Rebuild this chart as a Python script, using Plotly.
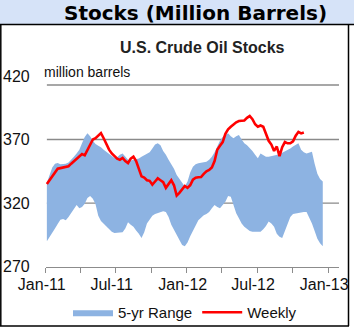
import pandas as pd
import plotly.graph_objects as go

# ---------------- data ----------------
band_start = "2011-01-04"
weekly_start = "2011-01-04"

range_low = [
    290, 293, 296.5, 300, 303.5, 307, 307.5, 306.5, 309, 312, 316, 318.5, 316, 317, 319.5, 324, 325.5,
    323.5, 319, 310, 306, 304, 302, 299.5, 297.5, 296.5, 296.5, 296.5, 297, 300, 305, 303, 301.5, 298.5,
    296, 292.5, 297, 304, 307.5, 310, 311.5, 312, 312.5, 313.5, 313, 309, 303, 299, 295, 292, 287, 286,
    289, 294, 298.5, 303, 306.5, 308.5, 310.5, 311.5, 313, 316, 318.5, 317, 316, 318.5, 321, 325.5, 325,
    318.5, 312, 308, 304, 301.5, 299.5, 298, 297.5, 297.5, 297.5, 297.5, 299.5, 302, 305.5, 304, 301.5,
    296, 293.5, 292.5, 298, 304, 309, 311.5, 312, 312, 312.5, 313, 313, 309, 304, 298, 292, 288.5, 286,
]
range_high = [
    336, 343, 348, 351, 351.5, 350.5, 350.5, 351, 352, 354, 356.5, 359, 362, 367, 372, 375, 372.5, 369,
    366.5, 365, 364, 362, 360.5, 359, 357, 355.5, 356, 358, 359, 356, 354, 353.5, 354, 354, 355, 356.5,
    357.5, 358.5, 360, 363, 366, 367, 365.5, 361, 358, 354, 351, 347, 342, 339, 337, 333,
    337, 344, 348.5, 350.5, 351.3, 351.5, 352, 352.5, 354, 356.5, 360, 365, 369, 372, 373.5, 375, 372.5,
    371, 372.5, 373.5, 370, 367, 365.5, 363.5, 361, 358, 355.2, 359, 357.5, 356.5, 356.5, 357, 357.5,
    357.8, 358.5, 359.5, 360.5, 361.5, 363, 364.5, 366, 367, 362, 360, 359, 359.5, 360.4, 351, 343, 339, 337,
]
weekly = [
    335, 338, 342, 345, 347, 347.5, 348, 348, 349, 351, 353, 355, 357, 358.5, 357.5, 362, 366, 370, 371,
    373, 375, 371, 366, 362, 359, 357, 355, 354, 355.5, 353, 351.5, 355, 356.5, 353, 347, 341, 340, 338,
    337.5, 334.5, 337, 339.5, 338, 336.5, 332, 335, 338, 334, 326, 328, 330.5, 333.5, 332, 334, 338.5,
    340, 340.3, 340.5, 343, 345, 346, 348, 353, 362, 365, 368, 374.5, 378, 380, 382, 383.5, 384.5, 384.8,
    385, 387, 388.5, 386, 382, 380, 381, 380, 374, 369, 366, 361, 364.5, 357, 364, 368, 367, 367, 368.5,
    373, 376, 374.8, 375.5,
]

y_ticks = [270, 320, 370, 420]
grid_values = [320, 370]

band_dates = pd.date_range(band_start, periods=len(range_low), freq="7D")
weekly_dates = pd.date_range(weekly_start, periods=len(weekly), freq="7D")

W, H = 354, 328


def px(x):
    return x / W


def py(y):
    return 1 - y / H


BAND = "#8db3e2"
FONT = "Liberation Sans, Arial, sans-serif"

fig = go.Figure()
fig.add_trace(go.Scatter(x=band_dates, y=range_low, mode="lines", line=dict(width=0, color=BAND),
                         showlegend=False, hoverinfo="skip"))
fig.add_trace(go.Scatter(x=band_dates, y=range_high, mode="lines", line=dict(width=0, color=BAND),
                         fill="tonexty", fillcolor=BAND, name="5-yr Range"))
fig.add_trace(go.Scatter(x=weekly_dates, y=weekly, mode="lines", line=dict(width=2.6, color="#ff0000"),
                         name="Weekly"))

x_left, x_right = 45.7, 339.0
y_bottom, y_top = 266.7, 70.0
px_per_unit = 1.272
y_max = 270 + (y_bottom - y_top) / px_per_unit

fig.update_layout(
    width=W, height=H,
    margin=dict(l=0, r=0, t=0, b=0, autoexpand=False),
    paper_bgcolor="white", plot_bgcolor="white",
    font=dict(family=FONT, color="#111", size=16),
    xaxis=dict(
        domain=[px(x_left), px(x_right)],
        automargin=False,
        type="date",
        range=["2011-01-01", "2013-01-29"],
        tick0="2011-01-01", dtick="M6", tickformat="%b-%y",
        ticks="outside", ticklen=5, tickcolor="#8c8c8c", tickwidth=1.3,
        showline=True, linecolor="#8c8c8c", linewidth=1.3,
        showgrid=False, zeroline=False,
        ticklabelshift=-4, ticklabelstandoff=-2,
        tickfont=dict(size=16, family=FONT, color="#111"),
        minor=dict(dtick="M3", tick0="2011-01-01", ticks="outside", ticklen=5,
                   tickcolor="#8c8c8c", tickwidth=1.3, showgrid=False),
    ),
    yaxis=dict(
        domain=[py(y_bottom), py(y_top)],
        automargin=False,
        range=[270, y_max],
        tickvals=y_ticks,
        showgrid=False, zeroline=False, showline=False,
        ticks="", ticklabelstandoff=15,
        tickfont=dict(size=16, family=FONT, color="#111"),
    ),
    legend=dict(
        orientation="h", xref="paper", yref="paper",
        x=px(68), y=py(312.5), xanchor="left", yanchor="middle",
        font=dict(size=15, family=FONT, color="#111"),
        itemwidth=40, tracegroupgap=0, bgcolor="rgba(0,0,0,0)",
        traceorder="normal",
    ),
    showlegend=True,
)

shapes = []
# header band
shapes.append(dict(type="rect", xref="paper", yref="paper", x0=0, x1=1, y0=py(24), y1=1,
                   fillcolor="#d6e3f8", line=dict(width=0), layer="below"))
# frame lines
line_black = dict(color="#000", width=1.5)
shapes.append(dict(type="line", xref="paper", yref="paper", x0=0, x1=1, y0=py(24.5), y1=py(24.5), line=line_black))
shapes.append(dict(type="line", xref="paper", yref="paper", x0=px(0.8), x1=px(0.8), y0=py(24.5), y1=py(326), line=line_black))
shapes.append(dict(type="line", xref="paper", yref="paper", x0=px(348.5), x1=px(348.5), y0=py(24.5), y1=py(326), line=line_black))
shapes.append(dict(type="line", xref="paper", yref="paper", x0=0, x1=px(349), y0=py(326), y1=py(326), line=line_black))
# gridlines
for gv in grid_values:
    shapes.append(dict(type="line", xref="x domain", yref="y", x0=0.004, x1=1, y0=gv, y1=gv,
                       line=dict(color="#8a8a8a", width=1.4), layer="below"))
# top rule under "million barrels"
shapes.append(dict(type="line", xref="x domain", yref="paper", x0=0.004, x1=1, y0=py(85), y1=py(85),
                   line=dict(color="#8a8a8a", width=1.4), layer="below"))
fig.update_layout(shapes=shapes)

fig.add_annotation(text="<b>Stocks (Million Barrels)</b>", xref="paper", yref="paper",
                   x=px(195), y=py(13), xanchor="center", yanchor="middle", showarrow=False,
                   font=dict(family="DejaVu Sans, Verdana, sans-serif", size=20, color="#000"))
fig.add_annotation(text="<b>U.S. Crude Oil Stocks</b>", xref="paper", yref="paper",
                   x=px(202.5), y=py(47), xanchor="center", yanchor="middle", showarrow=False,
                   font=dict(family=FONT, size=16, color="#222"))
fig.add_annotation(text="million barrels", xref="paper", yref="paper",
                   x=px(42), y=py(71.5), xanchor="left", yanchor="middle", showarrow=False,
                   font=dict(family=FONT, size=14, color="#111"))

fig.write_html("out.html")
